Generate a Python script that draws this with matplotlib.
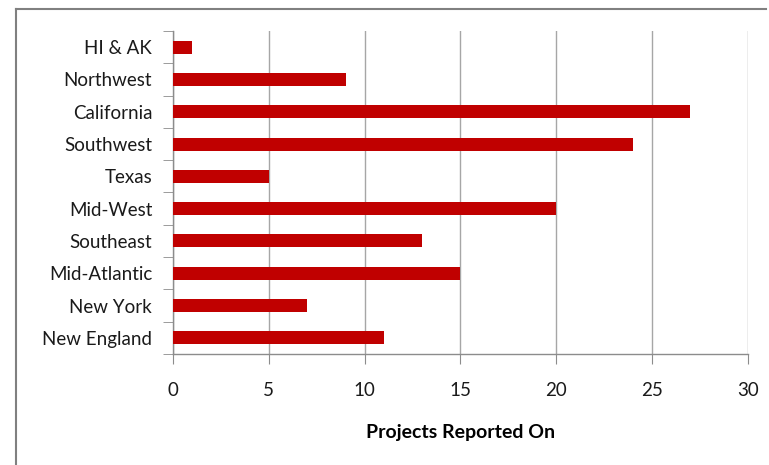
import matplotlib.pyplot as plt
from matplotlib.lines import Line2D

regions = ['New England', 'New York', 'Mid-Atlantic', 'Southeast', 'Mid-West',
           'Texas', 'Southwest', 'California', 'Northwest', 'HI & AK']
projects = [11, 7, 15, 13, 20, 5, 24, 27, 9, 1]
xticks = [0, 5, 10, 15, 20, 25, 30]

plt.rcParams['font.family'] = ['Lato', 'DejaVu Sans']
plt.rcParams['font.size'] = 13.5

fig = plt.figure(figsize=(7.69, 4.65), dpi=100)

# outer frame: only the left and top edges show in the reference
fx, fy = 16 / 769, 1 - 9 / 465
fig.add_artist(Line2D([fx, fx], [0, fy], transform=fig.transFigure, color='#808080', lw=1.5))
fig.add_artist(Line2D([fx, 0.996], [fy, fy], transform=fig.transFigure, color='#808080', lw=1.5))

ax = fig.add_axes([173 / 769, 1 - 354 / 465, (748 - 173) / 769, (354 - 31) / 465])
ypos = range(len(regions))
ax.barh(ypos, projects, height=0.4, color='#C00000', zorder=3)

ax.set_xlim(0, 30)
ax.set_ylim(-0.5, len(regions) - 0.5)
ax.set_xticks(xticks)
ax.set_yticks(list(ypos))
ax.set_yticklabels(regions)
ax.set_yticks([i - 0.5 for i in range(len(regions) + 1)], minor=True)

ax.grid(axis='x', color='#a6a6a6', lw=1, zorder=0)
for s in ['top', 'right']:
    ax.spines[s].set_visible(False)
for s in ['left', 'bottom']:
    ax.spines[s].set_color('#8c8c8c')
    ax.spines[s].set_linewidth(1)

ax.tick_params(axis='y', which='major', length=0, pad=15, labelcolor='#1a1a1a')
ax.tick_params(axis='y', which='minor', length=7, color='#8c8c8c')
ax.tick_params(axis='x', length=7, color='#8c8c8c', pad=13, labelcolor='#1a1a1a')

ax.set_xlabel('Projects Reported On', fontweight='bold', fontsize=14, labelpad=18)

fig.savefig('out.png', dpi=100)
